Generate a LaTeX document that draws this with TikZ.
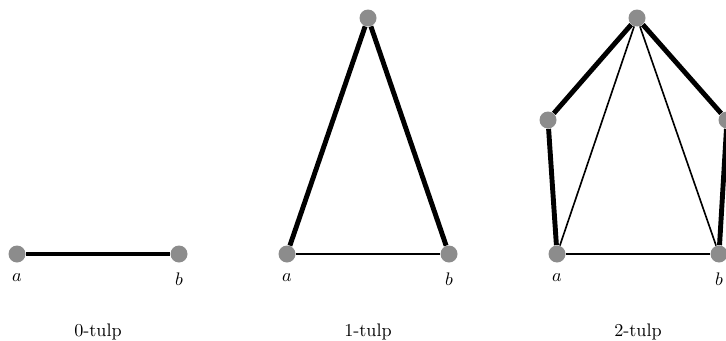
\documentclass[tikz,border=0pt]{standalone}
\begin{document}
\begin{tikzpicture}[x=0.55pt,y=-0.55pt,
  vtx/.style={circle,fill=black!45,inner sep=0pt,minimum size=17*0.55pt},
  thickedge/.style={line width=2.7pt},
  thinedge/.style={line width=0.9pt},
  lbl/.style={font=\normalsize,anchor=north,inner sep=0pt},
  captext/.style={font=\normalsize,anchor=base,inner sep=0pt}]
\useasboundingbox (0,0) rectangle (726,341);
% graph 0
\node[vtx] (a0) at (17,254) {};
\node[vtx] (b0) at (179,254) {};
\draw[thickedge] (a0) -- (b0);
\node[lbl] (la0) at (17,273) {$a$};
\node[lbl] (lb0) at (179,273) {$b$};
\node[captext] (c0) at (98,336) {0-tulp};
% graph 1
\node[vtx] (a1) at (287,254) {};
\node[vtx] (b1) at (449,254) {};
\node[vtx] (t1) at (368,18) {};
\draw[thinedge] (a1) -- (b1);
\draw[thickedge] (a1) -- (t1);
\draw[thickedge] (b1) -- (t1);
\node[lbl] (la1) at (287,273) {$a$};
\node[lbl] (lb1) at (449,273) {$b$};
\node[captext] (c1) at (368,336) {1-tulp};
% graph 2
\node[vtx] (a2) at (557,254) {};
\node[vtx] (b2) at (719,254) {};
\node[vtx] (t2) at (637,18) {};
\node[vtx] (l2) at (548,120) {};
\node[vtx] (r2) at (727,120) {};
\draw[thinedge] (a2) -- (b2);
\draw[thinedge] (a2) -- (t2);
\draw[thinedge] (b2) -- (t2);
\draw[thickedge] (a2) -- (l2);
\draw[thickedge] (l2) -- (t2);
\draw[thickedge] (t2) -- (r2);
\draw[thickedge] (r2) -- (b2);
\node[lbl] (la2) at (557,273) {$a$};
\node[lbl] (lb2) at (719,273) {$b$};
\node[captext] (c2) at (638,336) {2-tulp};
\end{tikzpicture}
\end{document}
